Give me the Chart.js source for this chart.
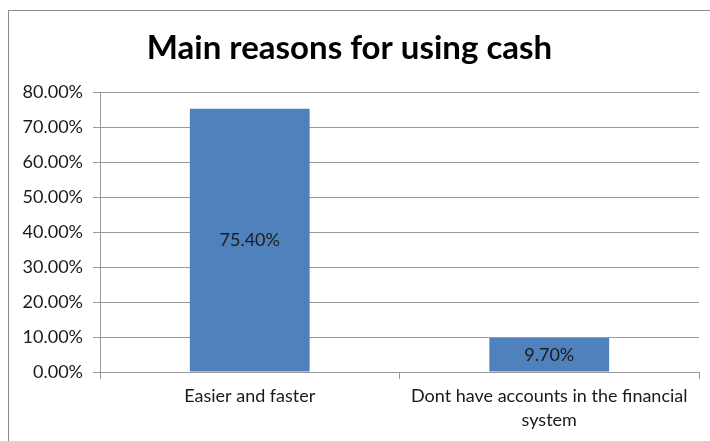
<!DOCTYPE html>
<html lang="en">
<head>
    <meta charset="UTF-8">
    <title>Main reasons for using cash</title>
    <script src="https://cdn.jsdelivr.net/npm/chart.js"></script>
    <style>
        body { margin: 0; background: #fff; }
        #wrap { position: relative; width: 710px; height: 441px; }
        #frame { position: absolute; left: 8px; top: 10px; width: 720px; height: 460px; border: 1px solid #8a8a8a; pointer-events: none; }
    </style>
</head>
<body>
    <div id="wrap">
        <canvas id="cashChart" width="710" height="441"></canvas>
        <div id="frame"></div>
    </div>

    <script>
        // Data
        var categories = ['Easier and faster', ['Dont have accounts in the financial', 'system']];
        var shares = [75.4, 9.7];
        var yTicks = [0, 10, 20, 30, 40, 50, 60, 70, 80];

        // Simple plugin to write the value inside each bar
        var barValues = {
            id: 'barValues',
            afterDatasetsDraw: function(chart) {
                var ctx = chart.ctx;
                var meta = chart.getDatasetMeta(0);
                ctx.save();
                ctx.font = '18px Lato';
                ctx.fillStyle = '#1c1c1c';
                ctx.textAlign = 'center';
                ctx.textBaseline = 'middle';
                meta.data.forEach(function(bar, i) {
                    ctx.fillText(shares[i].toFixed(2) + '%', bar.x, (bar.y + bar.base) / 2);
                });
                ctx.restore();
            }
        };

        var ctx = document.getElementById('cashChart').getContext('2d');
        var myChart = new Chart(ctx, {
            type: 'bar',
            data: {
                labels: categories,
                datasets: [{
                    data: shares,
                    backgroundColor: '#4f81bd',
                    barPercentage: 0.4,
                    categoryPercentage: 1
                }]
            },
            options: {
                responsive: false,
                animation: false,
                layout: { padding: { top: 10, right: 11, left: 0, bottom: 0 } },
                plugins: {
                    legend: { display: false },
                    tooltip: { enabled: false },
                    title: {
                        display: true,
                        text: 'Main reasons for using cash',
                        color: '#000',
                        font: { family: 'Lato', size: 33, weight: 'bold', lineHeight: 1.2 },
                        padding: { top: 19, bottom: 24 }
                    }
                },
                scales: {
                    x: {
                        grid: { drawOnChartArea: false, drawTicks: true, tickLength: 7, color: '#9a9a9a' },
                        border: { color: '#9a9a9a' },
                        ticks: { color: '#1a1a1a', font: { family: 'Lato', size: 18, lineHeight: 1.33 }, padding: 5, maxRotation: 0 },
                        afterFit: function(scale) { scale.height = 69; }
                    },
                    y: {
                        min: 0,
                        max: 80,
                        afterBuildTicks: function(scale) {
                            scale.ticks = yTicks.map(function(v) { return { value: v }; });
                        },
                        grid: { color: '#9a9a9a', tickLength: 7 },
                        border: { color: '#9a9a9a' },
                        ticks: {
                            color: '#1a1a1a',
                            font: { family: 'Lato', size: 18 },
                            padding: 10,
                            callback: function(value) { return value.toFixed(2) + '%'; }
                        },
                        afterFit: function(scale) { scale.width = 100; }
                    }
                }
            },
            plugins: [barValues]
        });
    </script>
</body>
</html>
